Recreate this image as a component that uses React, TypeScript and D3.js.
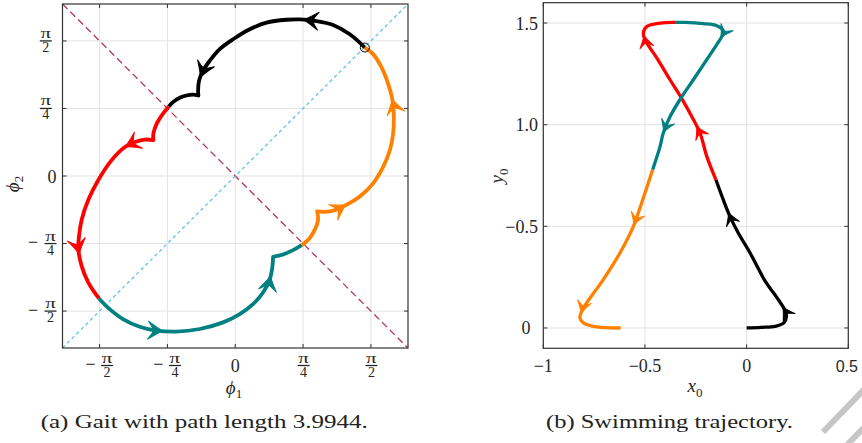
import React from 'react';
import * as d3 from 'd3';

type P = [number, number];

const PI = Math.PI;

// ---------- Panel (a): gait in shape space (radians) ----------
const gaitTicks = [-PI / 2, -PI / 4, 0, PI / 4, PI / 2];
const gaitTickLabels = ['−π/2', '−π/4', '0', 'π/4', 'π/2'];

const gaitBlack: P[] = [
  [1.500, 1.494], [1.326, 1.648], [1.133, 1.756], [0.940, 1.802], [0.747, 1.821],
  [0.593, 1.817], [0.361, 1.783], [0.168, 1.706], [-0.025, 1.590], [-0.180, 1.475],
  [-0.295, 1.340], [-0.373, 1.224], [-0.419, 1.109], [-0.430, 0.993], [-0.427, 0.936],
  [-0.488, 0.947], [-0.566, 0.936], [-0.643, 0.909], [-0.720, 0.859], [-0.770, 0.809],
];
const gaitRed: P[] = [
  [-0.770, 0.809], [-0.851, 0.705], [-0.909, 0.609], [-0.948, 0.493], [-0.948, 0.416],
  [-1.045, 0.424], [-1.161, 0.396], [-1.277, 0.338], [-1.431, 0.185], [-1.585, -0.046],
  [-1.701, -0.277], [-1.778, -0.508], [-1.809, -0.701], [-1.816, -0.855], [-1.778, -1.048],
  [-1.701, -1.239], [-1.578, -1.424],
];
const gaitTeal: P[] = [
  [-1.578, -1.424], [-1.454, -1.548], [-1.300, -1.663], [-1.106, -1.752], [-0.913, -1.798],
  [-0.681, -1.810], [-0.411, -1.779], [-0.141, -1.702], [0.052, -1.605], [0.206, -1.490],
  [0.322, -1.355], [0.400, -1.201], [0.431, -1.047], [0.438, -0.939],
  [0.554, -0.912], [0.670, -0.862], [0.770, -0.805],
];
const gaitOrange: P[] = [
  [0.770, -0.805], [0.863, -0.720], [0.921, -0.624], [0.959, -0.508], [0.948, -0.412],
  [1.095, -0.412], [1.249, -0.354], [1.442, -0.239], [1.596, -0.085], [1.712, 0.107],
  [1.790, 0.300], [1.828, 0.493], [1.836, 0.685], [1.821, 0.878], [1.770, 1.071],
  [1.694, 1.262], [1.596, 1.417], [1.500, 1.494],
];
const gaitBlackCusps = [14];
const gaitRedCusps = [4];
const gaitTealCusps = [13];
const gaitOrangeCusps = [4];

const gaitBlackArrows: P[] = [[0.79, 1.826], [-0.41, 1.15]];
const gaitRedArrows: P[] = [[-1.277, 0.338], [-1.816, -0.91]];
const gaitTealArrows: P[] = [[-0.836, -1.805], [0.419, -1.163]];
const gaitOrangeArrows: P[] = [[1.821, 0.90], [1.288, -0.343]];

const gaitDiagonal: P[] = [[-2, -2], [2, 2]];
const gaitAntiDiagonal: P[] = [[-2, 2], [2, -2]];

// ---------- Panel (b): swimming trajectory ----------
const swimXTicks = [-1, -0.5, 0, 0.5];
const swimXTickLabels = ['−1', '−0.5', '0', '0.5'];
const swimYTicks = [0, 0.5, 1.0, 1.5];
const swimYTickLabels = ['0', '−0.5', '1.0', '1.5'];

const swimBlack: P[] = [
  [0, 0], [0.07, 0.003], [0.141, 0.008], [0.183, 0.025], [0.196, 0.057], [0.191, 0.082],
  [0.150, 0.148], [0.092, 0.229], [0.017, 0.369], [-0.041, 0.467], [-0.082, 0.549],
  [-0.115, 0.631], [-0.151, 0.729],
];
const swimRed: P[] = [
  [-0.151, 0.729], [-0.196, 0.844], [-0.229, 0.959], [-0.262, 1.025], [-0.311, 1.115],
  [-0.377, 1.221], [-0.442, 1.328], [-0.500, 1.418], [-0.508, 1.451], [-0.491, 1.483],
  [-0.426, 1.500], [-0.352, 1.503],
];
const swimTeal: P[] = [
  [-0.352, 1.503], [-0.303, 1.503], [-0.213, 1.497], [-0.147, 1.487], [-0.118, 1.467],
  [-0.118, 1.443], [-0.147, 1.394], [-0.196, 1.320], [-0.262, 1.221], [-0.328, 1.123],
  [-0.377, 1.039], [-0.410, 0.959], [-0.426, 0.892], [-0.462, 0.779],
];
const swimOrange: P[] = [
  [-0.462, 0.779], [-0.500, 0.664], [-0.533, 0.566], [-0.557, 0.500], [-0.623, 0.369],
  [-0.705, 0.238], [-0.787, 0.123], [-0.811, 0.082], [-0.820, 0.049], [-0.803, 0.025],
  [-0.737, 0.005], [-0.619, 0],
];
const swimBlackArrows: P[] = [[0.182, 0.105], [-0.090, 0.566]];
const swimRedArrows: P[] = [[-0.245, 0.992], [-0.508, 1.438]];
const swimTealArrows: P[] = [[-0.122, 1.426], [-0.401, 0.959]];
const swimOrangeArrows: P[] = [[-0.560, 0.508], [-0.819, 0.074]];

const COLORS = { black: '#000000', red: '#ff0000', teal: '#008080', orange: '#ff8000' };
const SERIF = "'Liberation Serif', 'DejaVu Serif', serif";
const SANS = "'Liberation Sans', Arial, sans-serif";
const TXT = '#262626';

type Scale = d3.ScaleLinear<number, number>;

function buildPath(pts: P[], cusps: number[], xs: Scale, ys: Scale): string {
  const line = d3.line<P>().x(d => xs(d[0])).y(d => ys(d[1])).curve(d3.curveCatmullRom.alpha(0.5));
  const pieces: P[][] = [];
  let s = 0;
  for (const c of cusps) { pieces.push(pts.slice(s, c + 1)); s = c; }
  pieces.push(pts.slice(s));
  return pieces.map((pc, i) => {
    const d = line(pc) || '';
    return i === 0 ? d : 'L' + d.slice(1);
  }).join('');
}

function arrowAt(tip: P, pts: P[], xs: Scale, ys: Scale, L: number, Wd: number, color: string, key: string) {
  const px = pts.map(p => [xs(p[0]), ys(p[1])]);
  const tx = xs(tip[0]), ty = ys(tip[1]);
  let best = Infinity, ang = 0, bx = tx, by = ty;
  for (let i = 0; i < px.length - 1; i++) {
    const [ax, ay] = px[i], [cx, cy] = px[i + 1];
    const dx = cx - ax, dy = cy - ay;
    const len2 = dx * dx + dy * dy || 1;
    let t = ((tx - ax) * dx + (ty - ay) * dy) / len2;
    t = Math.max(0, Math.min(1, t));
    const qx = ax + t * dx, qy = ay + t * dy;
    const dist = Math.hypot(tx - qx, ty - qy);
    if (dist < best) { best = dist; ang = Math.atan2(dy, dx); bx = qx; by = qy; }
  }
  const d = `M0,0 C${-0.3 * L},${-0.2 * Wd} ${-0.65 * L},${-0.6 * Wd} ${-L},${-Wd} ` +
    `C${-0.82 * L},${-0.6 * Wd} ${-0.7 * L},${-0.3 * Wd} ${-0.62 * L},0 ` +
    `C${-0.7 * L},${0.3 * Wd} ${-0.82 * L},${0.6 * Wd} ${-L},${Wd} ` +
    `C${-0.65 * L},${0.6 * Wd} ${-0.3 * L},${0.2 * Wd} 0,0 Z`;
  return <path key={key} d={d} fill={color} stroke={color} strokeWidth={1} strokeLinejoin="round"
    transform={`translate(${bx},${by}) rotate(${(ang * 180) / PI})`} />;
}

function Frac({ cx, barY, num, den }: { cx: number; barY: number; num: string; den: string }) {
  return (
    <g>
      <text x={cx - 5.3} y={barY - 3} fontSize={14} fontFamily={SERIF} fill={TXT}
        textLength={10.6} lengthAdjust="spacingAndGlyphs">{num}</text>
      <line x1={cx - 6} x2={cx + 6} y1={barY} y2={barY} stroke={TXT} strokeWidth={1.3} />
      <text x={cx} y={barY + 11} textAnchor="middle" fontSize={14} fontFamily={SERIF} fill={TXT}>{den}</text>
    </g>
  );
}

export default function App() {
  const LX0 = 62.5, LX1 = 408, LY0 = 348, LY1 = 4;
  const RX0 = 543.3, RX1 = 848.3, RY0 = 348.3, RY1 = 2.7;
  const xL = d3.scaleLinear().domain([-2, 2]).range([LX0, LX1]);
  const yL = d3.scaleLinear().domain([-2, 2]).range([LY0, LY1]);
  const xR = d3.scaleLinear().domain([-1, 0.5]).range([RX0, RX1]);
  const yR = d3.scaleLinear().domain([-0.1, 1.6]).range([RY0, RY1]);

  const gait = [
    { pts: gaitBlack, cusps: gaitBlackCusps, arrows: gaitBlackArrows, color: COLORS.black },
    { pts: gaitRed, cusps: gaitRedCusps, arrows: gaitRedArrows, color: COLORS.red },
    { pts: gaitTeal, cusps: gaitTealCusps, arrows: gaitTealArrows, color: COLORS.teal },
    { pts: gaitOrange, cusps: gaitOrangeCusps, arrows: gaitOrangeArrows, color: COLORS.orange },
  ];
  const swim = [
    { pts: swimBlack, arrows: swimBlackArrows, color: COLORS.black },
    { pts: swimRed, arrows: swimRedArrows, color: COLORS.red },
    { pts: swimTeal, arrows: swimTealArrows, color: COLORS.teal },
    { pts: swimOrange, arrows: swimOrangeArrows, color: COLORS.orange },
  ];

  const grid = '#e3e3e3';
  const axisC = '#333333';
  const tl = 4;

  const lineL = d3.line<P>().x(d => xL(d[0])).y(d => yL(d[1]));

  return (
    <svg width={862} height={443} style={{ position: 'absolute', left: 0, top: 0, background: '#fff' }}>
      <rect x={0} y={0} width={862} height={443} fill="#fff" />
      {/* ===== Panel (a) ===== */}
      <g>
        {gaitTicks.map((t, i) => (
          <g key={'g' + i}>
            <line x1={xL(t)} x2={xL(t)} y1={LY0} y2={LY1} stroke={grid} strokeWidth={1} />
            <line x1={LX0} x2={LX1} y1={yL(t)} y2={yL(t)} stroke={grid} strokeWidth={1} />
          </g>
        ))}
        <path d={lineL(gaitAntiDiagonal) || ''} stroke="#b3385a" strokeWidth={1.3} strokeDasharray="7,4" fill="none" />
        <path d={lineL(gaitDiagonal) || ''} stroke="#5ec2ee" strokeWidth={1.3} strokeDasharray="3.5,3" fill="none" />
        {gait.map((s, i) => (
          <path key={'gl' + i} d={buildPath(s.pts, s.cusps, xL, yL)} fill="none" stroke={s.color}
            strokeWidth={3.8} strokeLinejoin="round" strokeLinecap="butt" />
        ))}
        {gait.map((s, i) => s.arrows.map((a, j) => arrowAt(a, s.pts, xL, yL, 15, 9, s.color, `ga${i}-${j}`)))}
        <circle cx={xL(gaitBlack[0][0])} cy={yL(gaitBlack[0][1])} r={4.5} fill="none" stroke="#000" strokeWidth={1} />
        <rect x={LX0} y={LY1} width={LX1 - LX0} height={LY0 - LY1} fill="none" stroke={axisC} strokeWidth={1.2} />
        {gaitTicks.map((t, i) => (
          <g key={'gt' + i} stroke={axisC} strokeWidth={1}>
            <line x1={xL(t)} x2={xL(t)} y1={LY0} y2={LY0 - tl} />
            <line x1={xL(t)} x2={xL(t)} y1={LY1} y2={LY1 + tl} />
            <line x1={LX0} x2={LX0 + tl} y1={yL(t)} y2={yL(t)} />
            <line x1={LX1} x2={LX1 - tl} y1={yL(t)} y2={yL(t)} />
          </g>
        ))}
        {/* x tick labels */}
        {gaitTicks.map((t, i) => {
          const lab = gaitTickLabels[i];
          const x = xL(t);
          const barY = 365.5;
          if (lab === '0') return <text key={'gxl' + i} x={x} y={372} textAnchor="middle" fontSize={18} fontFamily={SERIF} fill={TXT}>0</text>;
          const neg = lab.startsWith('−');
          const [num, den] = lab.replace('−', '').split('/');
          return (
            <g key={'gxl' + i}>
              {neg && <text x={x - 9} y={barY + 4.5} textAnchor="middle" fontSize={18} fontFamily={SERIF} fill={TXT}>−</text>}
              <Frac cx={neg ? x + 7.5 : x + 0.5} barY={barY} num={num} den={den} />
            </g>
          );
        })}
        {/* y tick labels */}
        {gaitTicks.map((t, i) => {
          const lab = gaitTickLabels[i];
          const y = yL(t);
          if (lab === '0') return <text key={'gyl' + i} x={56.5} y={y + 6.5} textAnchor="end" fontSize={18} fontFamily={SERIF} fill={TXT}>0</text>;
          const neg = lab.startsWith('−');
          const [num, den] = lab.replace('−', '').split('/');
          return (
            <g key={'gyl' + i}>
              {neg && <text x={33} y={y + 4.5} textAnchor="middle" fontSize={18} fontFamily={SERIF} fill={TXT}>−</text>}
              <Frac cx={neg ? 50.5 : 45.8} barY={y} num={num} den={den} />
            </g>
          );
        })}
        <text x={234} y={394} textAnchor="middle" fontSize={19} fontFamily={SERIF} fill={TXT} fontStyle="italic">
          ϕ<tspan fontSize={13} dy={4} fontStyle="normal">1</tspan>
        </text>
        <text transform="translate(19,184) rotate(-90)" textAnchor="middle" fontSize={19} fontFamily={SERIF} fill={TXT} fontStyle="italic">
          ϕ<tspan fontSize={13} dy={4} fontStyle="normal">2</tspan>
        </text>
        <text x={40.7} y={428} fontSize={19} fontFamily={SERIF} fill="#222" textLength={327} lengthAdjust="spacingAndGlyphs">
          (a) Gait with path length 3.9944.
        </text>
      </g>

      {/* ===== Panel (b) ===== */}
      <g>
        {swimXTicks.map((t, i) => (
          <line key={'rgx' + i} x1={xR(t)} x2={xR(t)} y1={RY0} y2={RY1} stroke={grid} strokeWidth={1} />
        ))}
        {swimYTicks.map((t, i) => (
          <line key={'rgy' + i} x1={RX0} x2={RX1} y1={yR(t)} y2={yR(t)} stroke={grid} strokeWidth={1} />
        ))}
        {swim.map((s, i) => (
          <path key={'sl' + i} d={buildPath(s.pts, [], xR, yR)} fill="none" stroke={s.color}
            strokeWidth={3.3} strokeLinejoin="round" strokeLinecap="butt" />
        ))}
        {swim.map((s, i) => s.arrows.map((a, j) => arrowAt(a, s.pts, xR, yR, 12, 7, s.color, `sa${i}-${j}`)))}
        <rect x={RX0} y={RY1} width={RX1 - RX0} height={RY0 - RY1} fill="none" stroke={axisC} strokeWidth={1.2} />
        {swimXTicks.map((t, i) => (
          <g key={'rtx' + i} stroke={axisC} strokeWidth={1}>
            <line x1={xR(t)} x2={xR(t)} y1={RY0} y2={RY0 - tl} />
            <line x1={xR(t)} x2={xR(t)} y1={RY1} y2={RY1 + tl} />
          </g>
        ))}
        {swimYTicks.map((t, i) => (
          <g key={'rty' + i} stroke={axisC} strokeWidth={1}>
            <line x1={RX0} x2={RX0 + tl} y1={yR(t)} y2={yR(t)} />
            <line x1={RX1} x2={RX1 - tl} y1={yR(t)} y2={yR(t)} />
          </g>
        ))}
        {swimXTicks.map((t, i) => {
          const lab = swimXTickLabels[i];
          const sans = i === swimXTicks.length - 1;
          return (
            <text key={'rxl' + i} x={xR(t) - (sans ? 1.5 : 0)} y={371.7} textAnchor="middle"
              fontSize={sans ? 16 : 18} fontFamily={sans ? SANS : SERIF} fill={TXT}>{lab}</text>
          );
        })}
        {swimYTicks.map((t, i) => {
          const lab = swimYTickLabels[i];
          return (
            <text key={'ryl' + i} x={lab === '0' ? 530.5 : 538} y={yR(t) + 6.5} textAnchor="end"
              fontSize={18} fontFamily={SERIF} fill={TXT}>{lab}</text>
          );
        })}
        <text x={695} y={391.7} textAnchor="middle" fontSize={19} fontFamily={SERIF} fill={TXT} fontStyle="italic">
          x<tspan fontSize={13} dy={5} fontStyle="normal">0</tspan>
        </text>
        <text transform="translate(503,176) rotate(-90)" textAnchor="middle" fontSize={19} fontFamily={SERIF} fill={TXT} fontStyle="italic">
          y<tspan fontSize={13} dy={5} fontStyle="normal">0</tspan>
        </text>
        <text x={546} y={428} fontSize={19} fontFamily={SERIF} fill="#222" textLength={247} lengthAdjust="spacingAndGlyphs">
          (b) Swimming trajectory.
        </text>
      </g>

      {/* watermark strokes */}
      <line x1={823} y1={432} x2={880} y2={373} stroke="#c6c6c6" strokeWidth={6} />
      <line x1={846} y1={446} x2={880} y2={411} stroke="#c6c6c6" strokeWidth={6} />
    </svg>
  );
}
